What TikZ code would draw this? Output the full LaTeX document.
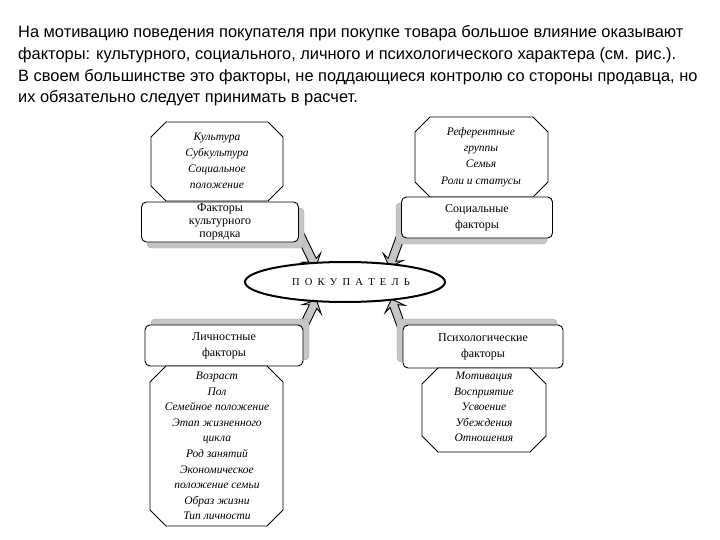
\documentclass[tikz,border=0pt]{standalone}
\usepackage{fontspec}
\setmainfont{Liberation Serif}
\newfontfamily\parafont{Liberation Sans}
\usetikzlibrary{shapes.arrows,shapes.geometric}
\tikzset{
  para/.style={anchor=base west,inner sep=0pt,font=\parafont\fontsize{16.4}{18}\selectfont},
  shadowbox/.style={fill=gray!45,draw=gray!70,rounded corners=4pt},
  factorbox/.style={draw=black,line width=0.9pt,fill=white,rounded corners=5pt,inner sep=0pt,align=center,font=\fontsize{12}{16}\selectfont},
  octa/.style={draw=black,line width=0.9pt,fill=white},
  octatext/.style={align=center,inner sep=0pt,font=\itshape\fontsize{11.5}{16.2}\selectfont},
  bigarrow/.style={single arrow,draw=black,line width=0.9pt,fill=gray!45,minimum width=21pt,single arrow head extend=4.5pt,single arrow head indent=3pt,inner sep=2.5pt},
}
\newcommand{\octagon}[5]{\draw[octa] (#1+#5,#2) -- (#3-#5,#2) -- (#3,#2+#5) -- (#3,#4-#5) -- (#3-#5,#4) -- (#1+#5,#4) -- (#1,#4-#5) -- (#1,#2+#5) -- cycle;}
\begin{document}
\begin{tikzpicture}[x=1pt,y=-1pt]
\useasboundingbox (0,0) rectangle (720,540);
% paragraph
\node[para] (p1) at (18,38) {На мотивацию поведения покупателя при покупке товара большое влияние оказывают};
\node[para] (p2) at (18,60) {факторы: культурного, социального, личного и психологического характера (см. рис.).};
\node[para] (p3) at (18,82) {В своем большинстве это факторы, не поддающиеся контролю со стороны продавца, но};
\node[para] (p4) at (18,103) {их обязательно следует принимать в расчет.};

% arrows (behind boxes)
\node[bigarrow,minimum height=36pt,rotate=-64] (a1) at (307,249) {};
\node[bigarrow,minimum height=34pt,rotate=-110] (a2) at (396,249) {};
\node[bigarrow,minimum height=34pt,rotate=64] (a3) at (308,317) {};
\node[bigarrow,minimum height=34pt,rotate=110] (a4) at (398,317) {};

% top-left
\octagon{151}{122}{283}{201}{15}
\node[octatext] (o1) at (217,161) {Культура\\Субкультура\\Социальное\\положение};
\fill[shadowbox] (147,208) rectangle (304,248);
\node[factorbox,minimum width=157pt,minimum height=40pt] (b1) at (220,222) {Факторы\\[-3pt]культурного\\[-3pt]порядка};

% top-right
\octagon{415}{117}{548}{197}{15}
\node[octatext] (o2) at (481,157) {Референтные\\группы\\Семья\\Роли и статусы};
\fill[shadowbox] (396,203) rectangle (547,244);
\node[factorbox,minimum width=151pt,minimum height=41pt] (b2) at (477,217.5) {Социальные\\факторы};

% ellipse
\node[ellipse,draw=black,line width=2pt,fill=white,minimum width=200pt,minimum height=40pt] (buyer) at (345,282) {};
\node[font=\fontsize{10.5}{12}\selectfont,inner sep=0pt] (buyertext) at (351,282) {П\,\,\,О\,\,\,К\,\,\,У\,\,\,П\,\,\,А\,\,\,Т\,\,\,Е\,\,\,Л\,\,\,Ь};

% bottom-left
\fill[shadowbox] (151,319) rectangle (309,360);
\node[factorbox,minimum width=158pt,minimum height=41pt] (b3) at (224,345.5) {Личностные\\факторы};
\octagon{150}{366}{283}{526}{16}
\node[octatext,font=\itshape\fontsize{11.5}{15.6}\selectfont] (o3) at (217,446) {Возраст\\Пол\\Семейное положение\\Этап жизненного\\цикла\\Род занятий\\Экономическое\\положение семьи\\Образ жизни\\Тип личности};

% bottom-right
\fill[shadowbox] (397,319) rectangle (557,362);
\node[factorbox,minimum width=160pt,minimum height=43pt] (b4) at (483,346.5) {Психологические\\факторы};
\octagon{422}{368}{546}{452}{16}
\node[octatext,font=\itshape\fontsize{11.5}{15.5}\selectfont] (o4) at (484,407) {Мотивация\\Восприятие\\Усвоение\\Убеждения\\Отношения};
\end{tikzpicture}
\end{document}
